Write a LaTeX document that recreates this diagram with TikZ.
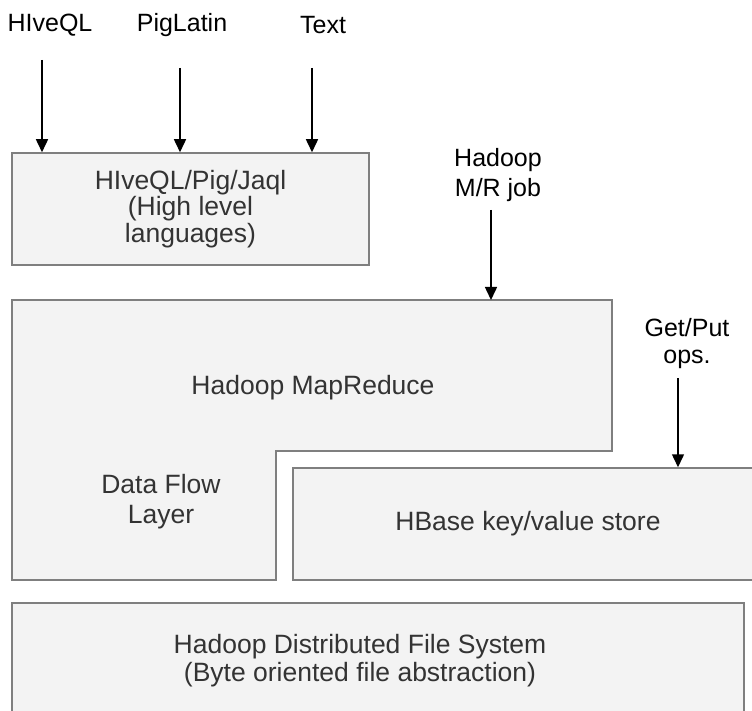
\documentclass[tikz,border=0pt]{standalone}
\usepackage{fontspec}
\setmainfont{Liberation Sans}
\usetikzlibrary{arrows.meta,calc,positioning}
\definecolor{boxfill}{HTML}{F3F3F3}
\definecolor{boxline}{HTML}{7F7F7F}
\definecolor{boxtext}{HTML}{333333}
\tikzset{
    mybox/.style={draw=boxline,fill=boxfill,line width=1.5pt,inner sep=0pt},
    mytext/.style={text=boxtext,align=center,font=\fontsize{26.5}{26.5}\selectfont},
    mylabel/.style={text=black,align=center,font=\fontsize{25}{30}\selectfont},
    myarrow/.style={-{Triangle[length=13pt,width=12pt]},line width=1.5pt,black}
}
\begin{document}
\begin{tikzpicture}[x=1pt,y=-1pt]
  \useasboundingbox (0,0) rectangle (752,711);
  \clip (0,0) rectangle (752,711);
  % layer boxes
  \node[mybox,mytext,minimum width=357pt,minimum height=112pt] (hive) at (190.5,209)
    {HIveQL/Pig/Jaql\\(High level\\languages)};
  \draw[mybox] (12,300) -- (612,300) -- (612,451) -- (276,451) -- (276,580) -- (12,580) -- cycle;
  \coordinate (mrtop) at (612,300);
  \node[mytext] (mrtxt) at (313,388) {Hadoop MapReduce};
  \node[mytext,font=\fontsize{26.5}{30}\selectfont] (flowtxt) at (161,502) {Data Flow\\Layer};
  \node[mybox,mytext,minimum width=470pt,minimum height=112pt] (hbase) at (528,524)
    {HBase key/value store};
  \node[mybox,minimum width=732pt,minimum height=117pt] (hdfs) at (378,661.5) {};
  \node[mytext,font=\fontsize{26.5}{28}\selectfont] (hdfstxt) at (360,661)
    {Hadoop Distributed File System\\(Byte oriented file abstraction)};
  % inputs
  \node[mylabel] (hiveql) at (50,25) {HIveQL};
  \node[mylabel] (piglatin) at (182,25) {PigLatin};
  \node[mylabel] (text) at (323,25) {Text};
  \node[mylabel] (mrjob) at (498,175) {Hadoop\\M/R job};
  \node[mylabel,font=\fontsize{25}{27}\selectfont] (getput) at (687,344) {Get/Put\\ops.};
  \coordinate (h1) at (42,60);
  \coordinate (h2) at (180,68);
  \coordinate (h3) at (312,68);
  \coordinate (m1) at (491,210);
  \coordinate (g1) at (678,378);
  \foreach \a/\b in {h1/hive,h2/hive,h3/hive,g1/hbase}
    \draw[myarrow] (\a) -- (\a |- \b.north);
  \draw[myarrow] (m1) -- (m1 |- mrtop);
\end{tikzpicture}
\end{document}
